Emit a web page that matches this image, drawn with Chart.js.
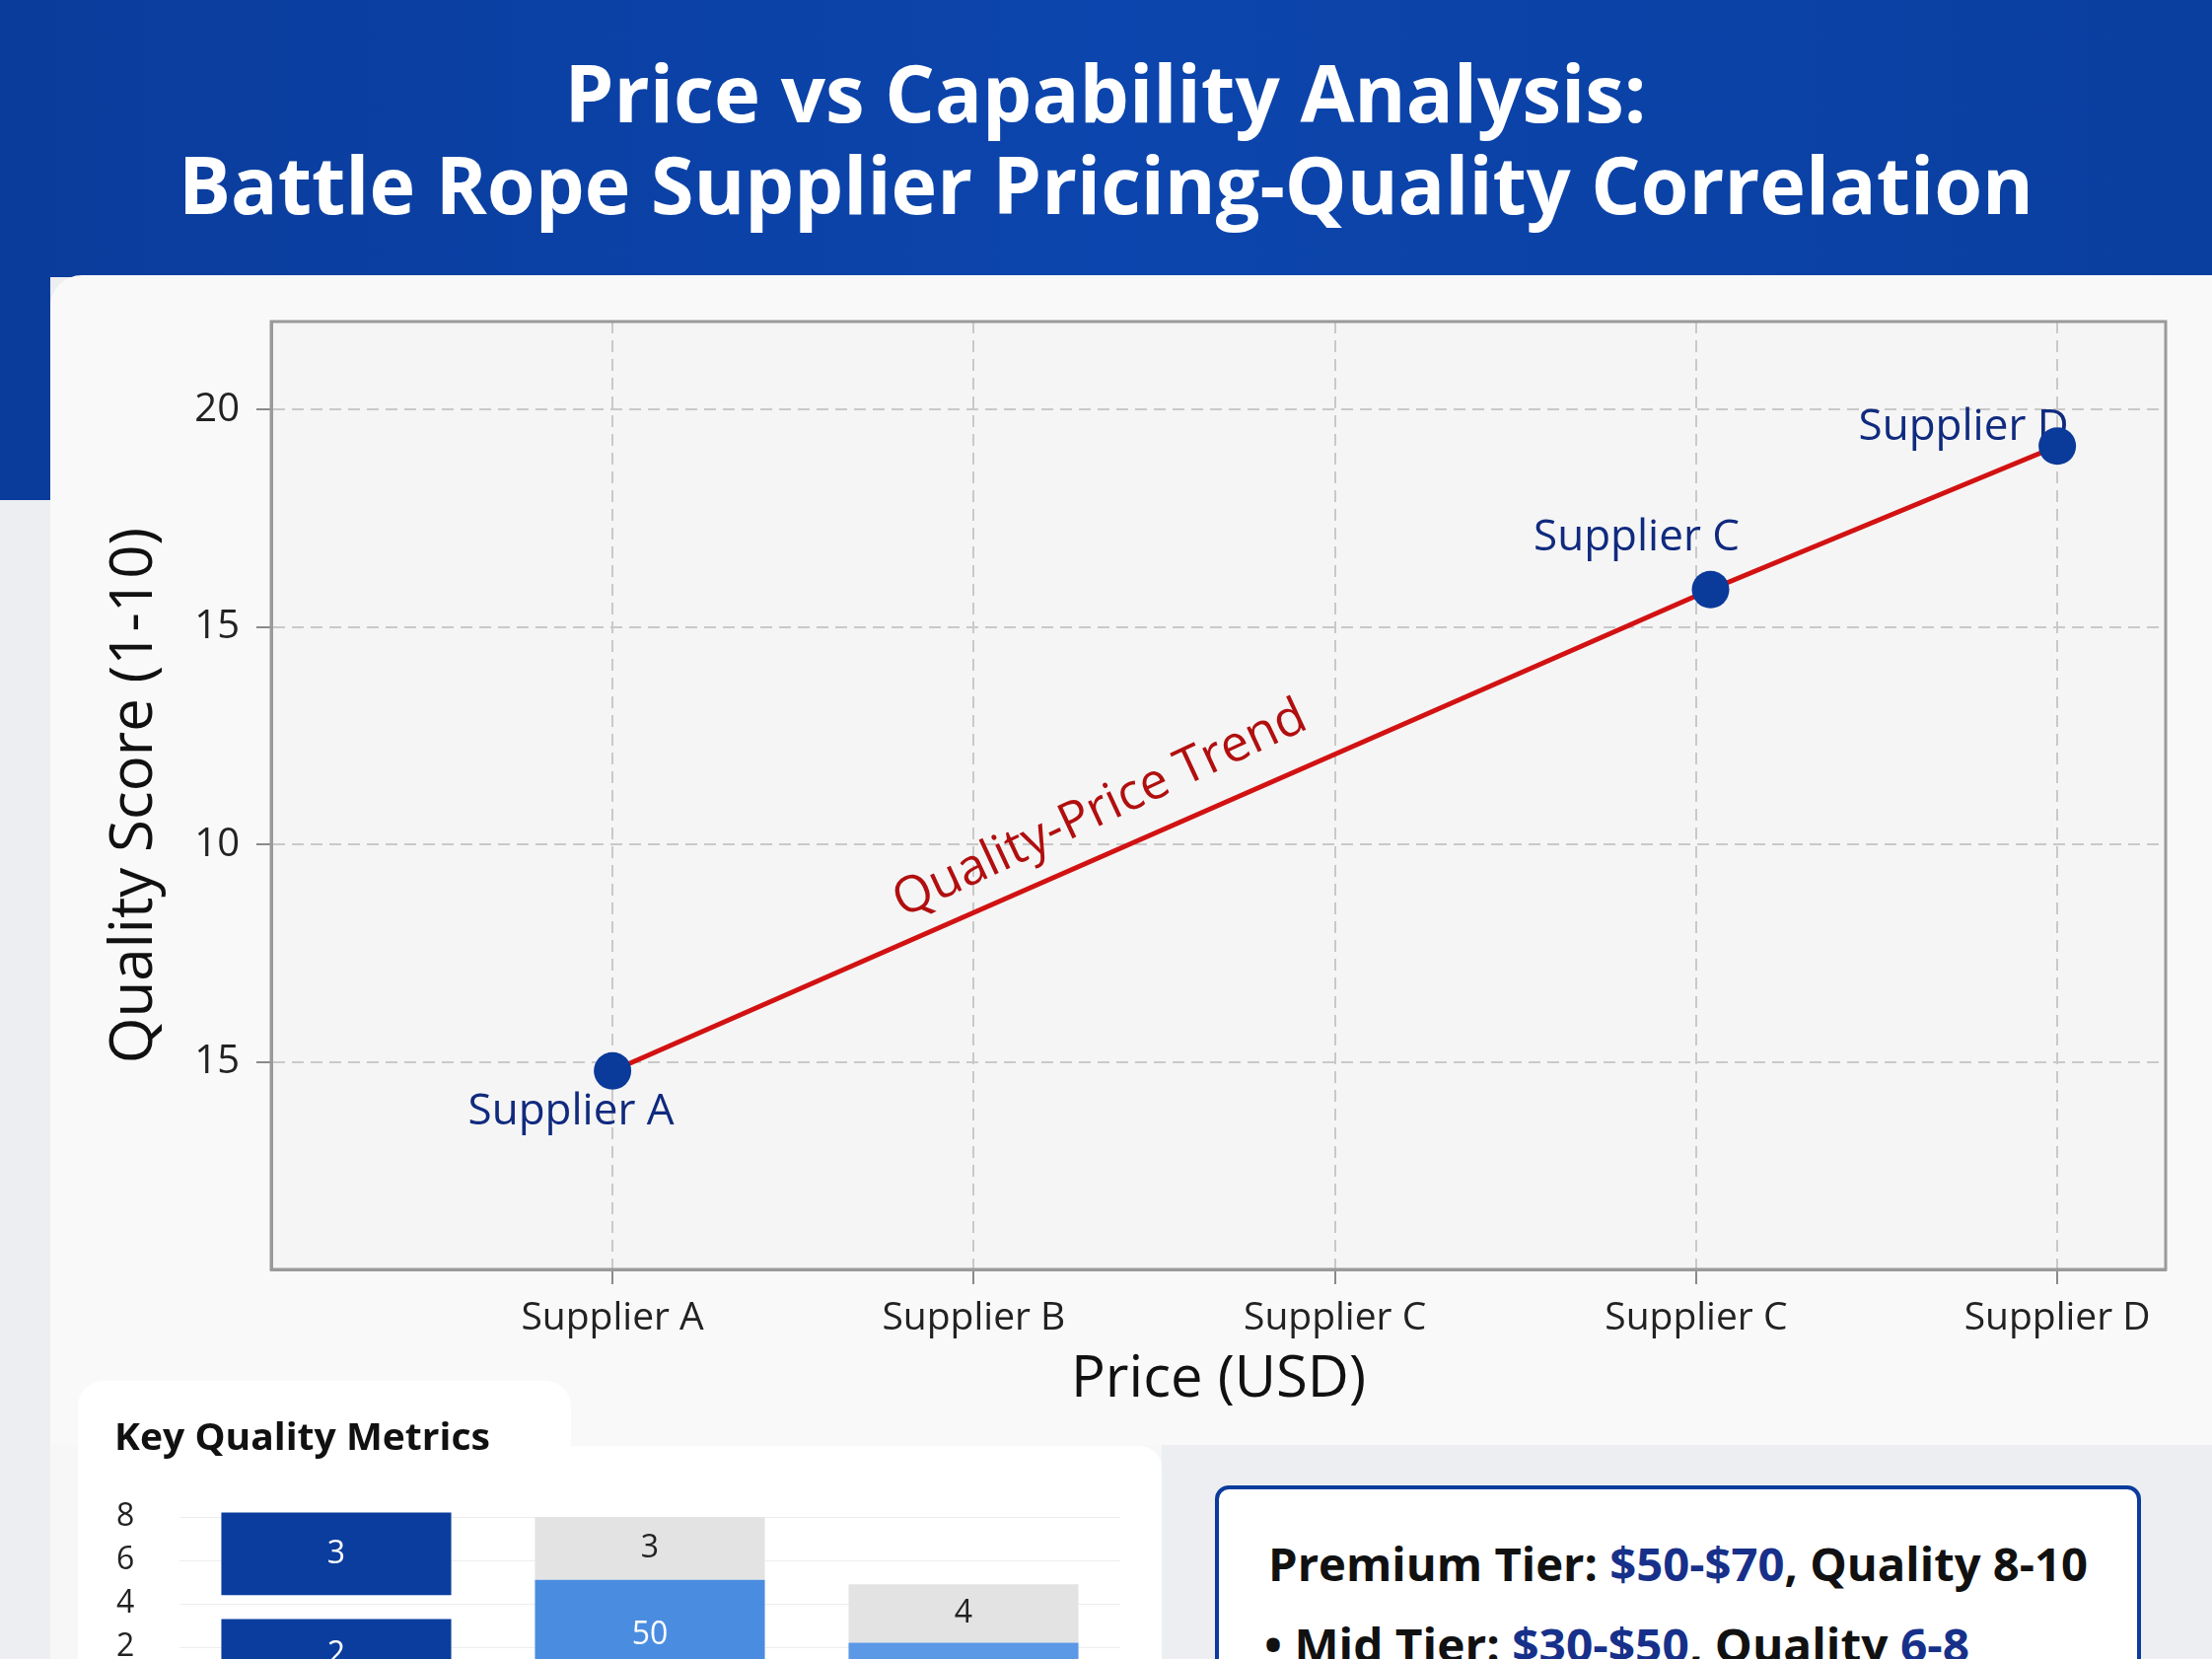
<!DOCTYPE html>
<html>
<head>
<meta charset="utf-8">
<title>Price vs Capability Analysis</title>
<script src="https://cdn.jsdelivr.net/npm/chart.js@4.4.1/dist/chart.umd.min.js"></script>
<style>
  html, body { margin: 0; padding: 0; }
  body {
    width: 2243px; height: 1682px; overflow: hidden; position: relative;
    background: #eceef1; font-family: 'Open Sans', sans-serif;
  }
  .abs { position: absolute; }
  #header { left: 0; top: 0; width: 2243px; height: 281px;
    background: linear-gradient(90deg, #0a3c9b 0%, #0c45ad 50%, #0a3f9f 100%); }
  #strip { left: 0; top: 0; width: 51px; height: 507px; background: #0a3c9b; }
  #card { left: 51px; top: 279px; width: 2192px; height: 1186px; background: #f9f9f9;
    border-top-left-radius: 32px; }
  #cardLow { left: 51px; top: 1465px; width: 1127px; height: 217px; background: #f7f7f7; }
  #tab { left: 79px; top: 1400px; width: 500px; height: 120px; background: #fff;
    border-radius: 26px 26px 0 0; }
  #panel { left: 79px; top: 1466px; width: 1099px; height: 260px; background: #fff;
    border-top-right-radius: 22px; }
  .tline { position: absolute; left: 0; width: 2243px; text-align: center; color: #fff;
    font-weight: 700; font-size: 80px; line-height: 96px; white-space: nowrap; }
  .tline span, .fit span { display: inline-block; white-space: nowrap; }
  .tline span { transform-origin: center center; }
  .fit span { transform-origin: left center; }
  #keyTitle { left: 116px; top: 1432px; font-weight: 700; font-size: 38px; line-height: 46px; color: #111; }
  #tierBox { left: 1232px; top: 1506px; width: 939px; height: 260px; box-sizing: border-box;
    border: 4px solid #0b3c9c; border-radius: 14px; background: #fff; }
  .tier { font-weight: 700; font-size: 46px; line-height: 56px; color: #111; white-space: nowrap; }
  .hl { color: #17308a; }
  #tier1 { left: 1286px; top: 1557px; }
  #tier2 { left: 1282px; top: 1639px; }
  #mainWrap { left: 51px; top: 290px; width: 2192px; height: 1144px; }
  #metricWrap { left: 60px; top: 1500px; width: 1100px; height: 218px; }
</style>
</head>
<body>
<div id="header" class="abs"></div>
<div id="strip" class="abs"></div>
<div class="tline" style="top:45px"><span data-w="1097">Price vs Capability Analysis:</span></div>
<div class="tline" style="top:138px"><span data-w="1881">Battle Rope Supplier Pricing-Quality Correlation</span></div>
<div id="card" class="abs"></div>
<div id="cardLow" class="abs"></div>
<div id="mainWrap" class="abs"><canvas id="mainChart" width="2192" height="1144"></canvas></div>
<div id="tab" class="abs"></div>
<div id="panel" class="abs"></div>
<div id="keyTitle" class="abs fit"><span data-w="381">Key Quality Metrics</span></div>
<div id="metricWrap" class="abs"><canvas id="metricChart" width="1100" height="218"></canvas></div>
<div id="tierBox" class="abs"></div>
<div id="tier1" class="abs tier fit"><span data-w="831">Premium Tier: <span class="hl">$50-$70</span>, Quality 8-10</span></div>
<div id="tier2" class="abs tier fit"><span data-w="715">• Mid Tier: <span class="hl">$30-$50</span>, Quality <span class="hl">6-8</span></span></div>

<script>
  // ===== DONNÉES GRAPHIQUE PRINCIPAL =====
  const xTickValues = [1, 2, 3, 4, 5];
  const xTickLabels = ['Supplier A', 'Supplier B', 'Supplier C', 'Supplier C', 'Supplier D'];
  const yTickValues = [5, 10, 15, 20];
  const yTickLabels = ['15', '10', '15', '20'];
  const pointNames = ['Supplier A', 'Supplier C', 'Supplier D'];
  const priceIndex = [1, 4.04, 5];
  const qualityScore = [4.8, 15.86, 19.16];
  const trendLabel = 'Quality-Price Trend';

  // ===== DONNÉES MÉTRIQUES =====
  const metricGroups = ['Supplier A', 'Supplier B', 'Supplier C'];
  const metricBase = [3.3, 5.1, 2.2];
  const metricGap = [1.1, 0, 0];
  const metricTop = [3.8, 2.9, 2.7];
  const metricBaseLabels = ['2', '50', ''];
  const metricTopLabels = ['3', '3', '4'];
  const metricTicks = [2, 4, 6, 8];

  const colors = {
    navy: '#0a3a9a',
    label: '#102a7e',
    red: '#d21212',
    redText: '#b10f0f',
    grid: '#c9c9c9',
    axis: '#9a9a9a',
    text: '#222'
  };

  // placement des étiquettes (px, relatif au point)
  const labelOffsets = [[-42, 42], [-75, -52], [-95, -19]];
  const trendAnchor = { x: 2.35, y: 10.8, angle: -25 };

  const plotDecor = {
    id: 'plotDecor',
    beforeDraw(chart) {
      const a = chart.chartArea, ctx = chart.ctx;
      ctx.save();
      ctx.fillStyle = '#f5f5f5';
      ctx.fillRect(a.left, a.top, a.right - a.left, a.bottom - a.top);
      ctx.restore();
    },
    beforeDatasetsDraw(chart) {
      const a = chart.chartArea, ctx = chart.ctx;
      const xs = chart.scales.x, ys = chart.scales.y;
      ctx.save();
      ctx.strokeStyle = colors.axis;
      ctx.lineWidth = 3;
      ctx.strokeRect(a.left, a.top, a.right - a.left, a.bottom - a.top);

      ctx.font = '500 44px "Open Sans"';
      ctx.fillStyle = colors.label;
      ctx.textAlign = 'center';
      ctx.textBaseline = 'middle';
      pointNames.forEach(function(name, i) {
        const px = xs.getPixelForValue(priceIndex[i]) + labelOffsets[i][0];
        const py = ys.getPixelForValue(qualityScore[i]) + labelOffsets[i][1];
        ctx.fillText(name, px, py);
      });

      ctx.translate(xs.getPixelForValue(trendAnchor.x), ys.getPixelForValue(trendAnchor.y));
      ctx.rotate(trendAnchor.angle * Math.PI / 180);
      ctx.font = '500 51px "Open Sans"';
      ctx.fillStyle = colors.redText;
      ctx.fillText(trendLabel, 0, 0);
      ctx.restore();
    }
  };

  new Chart(document.getElementById('mainChart'), {
    type: 'scatter',
    data: {
      datasets: [{
        label: trendLabel,
        data: priceIndex.map(function(x, i) { return { x: x, y: qualityScore[i] }; }),
        showLine: true,
        borderColor: colors.red,
        borderWidth: 5,
        pointRadius: 19,
        pointHoverRadius: 19,
        pointBackgroundColor: colors.navy,
        pointBorderWidth: 0
      }]
    },
    options: {
      responsive: false,
      devicePixelRatio: 1,
      animation: false,
      layout: { padding: { top: 36, right: 47, left: 0, bottom: 0 } },
      plugins: { legend: { display: false }, tooltip: { enabled: false } },
      scales: {
        x: {
          type: 'linear',
          min: 0.055,
          max: 5.3,
          afterBuildTicks: function(s) { s.ticks = xTickValues.map(function(v) { return { value: v }; }); },
          afterFit: function(s) { s.height = 147; },
          ticks: {
            autoSkip: false, maxRotation: 0, padding: 11, color: colors.text,
            font: { family: 'Open Sans', size: 39 },
            callback: function(v, i) { return xTickLabels[i]; }
          },
          grid: { color: colors.grid, lineWidth: 2, tickLength: 15, tickColor: '#8a8a8a', tickWidth: 2 },
          border: { dash: [12, 7], color: colors.axis, width: 3 },
          title: { display: true, text: 'Price (USD)', color: '#111', padding: 0,
            font: { family: 'Open Sans', size: 58 } }
        },
        y: {
          type: 'linear',
          min: 0.24,
          max: 22.02,
          afterBuildTicks: function(s) { s.ticks = yTickValues.map(function(v) { return { value: v }; }); },
          afterFit: function(s) { s.width = 224; },
          ticks: {
            padding: 17, color: colors.text,
            font: { family: 'Open Sans', size: 40, lineHeight: 0.5 },
            callback: function(v, i) { return yTickLabels[i]; }
          },
          grid: { color: colors.grid, lineWidth: 2, tickLength: 15, tickColor: '#8a8a8a', tickWidth: 2 },
          border: { dash: [12, 7], color: colors.axis, width: 3 },
          title: { display: true, text: 'Quality Score (1-10)', color: '#111', padding: { top: 50 },
            font: { family: 'Open Sans', size: 60 } }
        }
      }
    },
    plugins: [plotDecor]
  });

  // ===== GRAPHIQUE MÉTRIQUES =====
  const segLabels = {
    id: 'segLabels',
    afterDatasetsDraw(chart) {
      const ctx = chart.ctx;
      ctx.save();
      ctx.font = '32px "Open Sans"';
      ctx.textAlign = 'center';
      ctx.textBaseline = 'middle';
      [[0, metricBaseLabels, ['#fff', '#fff', '#fff']], [2, metricTopLabels, ['#fff', '#222', '#222']]]
        .forEach(function(spec) {
          chart.getDatasetMeta(spec[0]).data.forEach(function(bar, i) {
            if (!spec[1][i]) return;
            ctx.fillStyle = spec[2][i];
            ctx.fillText(spec[1][i], bar.x, (bar.y + bar.base) / 2);
          });
        });
      ctx.restore();
    }
  };

  new Chart(document.getElementById('metricChart'), {
    type: 'bar',
    data: {
      labels: metricGroups,
      datasets: [
        { data: metricBase, backgroundColor: ['#0a3d9e', '#4a8de0', '#5b98e6'] },
        { data: metricGap, backgroundColor: 'rgba(0,0,0,0)' },
        { data: metricTop, backgroundColor: ['#0a3d9e', '#e3e3e3', '#e3e3e3'] }
      ]
    },
    options: {
      responsive: false,
      devicePixelRatio: 1,
      animation: false,
      layout: { padding: { top: 5, right: 24, left: 58, bottom: 4 } },
      datasets: { bar: { categoryPercentage: 1, barPercentage: 0.733, borderWidth: 0 } },
      plugins: { legend: { display: false }, tooltip: { enabled: false } },
      scales: {
        x: { stacked: true, display: false },
        y: {
          stacked: true,
          min: 0,
          max: 9.5,
          afterBuildTicks: function(s) { s.ticks = metricTicks.map(function(v) { return { value: v }; }); },
          afterFit: function(s) { s.width = 64; },
          ticks: { padding: 0, crossAlign: 'far', color: colors.text,
            font: { family: 'Open Sans', size: 32, lineHeight: 0.2 } },
          grid: { color: '#ededed', drawTicks: false },
          border: { display: false }
        }
      }
    },
    plugins: [segLabels]
  });

  // ajuster la largeur des textes au modèle
  function fitTexts() {
    document.querySelectorAll('[data-w]').forEach(function(el) {
      el.style.transform = 'none';
      const w = el.getBoundingClientRect().width;
      if (w > 0) el.style.transform = 'scaleX(' + (parseFloat(el.dataset.w) / w) + ')';
    });
  }
  fitTexts();
  if (document.fonts && document.fonts.ready) document.fonts.ready.then(fitTexts);
</script>
</body>
</html>
